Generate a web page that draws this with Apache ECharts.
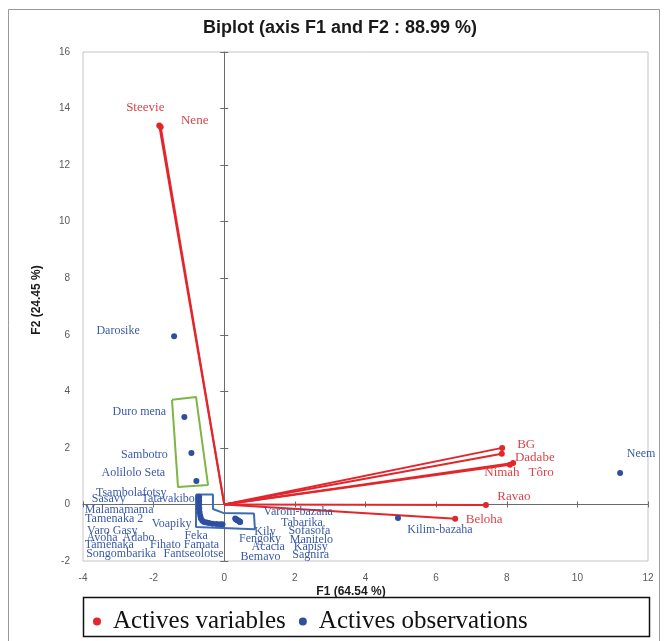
<!DOCTYPE html>
<html>
<head>
<meta charset="utf-8">
<script src="https://cdn.jsdelivr.net/npm/echarts@6/dist/echarts.min.js"></script>
<style>
  html, body { margin: 0; padding: 0; background: #ffffff; }
  #chart { width: 667px; height: 641px; }
</style>
</head>
<body>
<div id="chart"></div>
<script>
// ---- Data ----
const chartTitle = 'Biplot (axis F1 and F2 : 88.99 %)';
const xAxisTitle = 'F1 (64.54 %)';
const yAxisTitle = 'F2 (24.45 %)';
const legendNames = ['Actives variables', 'Actives observations'];

const xMin = -4, xMax = 12, xStep = 2;
const yMin = -2, yMax = 16, yStep = 2;

// Active variables (vectors from origin)
const varNames = ['Steevie', 'Nene', 'BG', 'Dadabe', 'Tôro', 'Nimah', 'Ravao', 'Beloha'];
const varF1 = [-1.84, -1.80, 7.87, 7.86, 8.18, 8.09, 7.41, 6.54];
const varF2 = [13.40, 13.35, 2.00, 1.79, 1.47, 1.40, -0.02, -0.51];

// Active observations
const obsNames = ['Darosike', 'Duro mena', 'Sambotro', 'Aolilolo Seta',
  'Tsambolafotsy', 'Sasavy', 'Tatavakibo', 'Malamamama', 'Tamenaka 2', 'Voapiky',
  'Varo Gasy', 'Avoha', 'Tamenaka', 'Songombarika', 'Adabo', 'Feka', 'Fihato Famata',
  'Fantseolotse', 'Fengoky', 'Bemavo',
  'Varom-bazaha', 'Tabarika', 'Kily', 'Sagnira', 'Sofasofa', 'Manitelo', 'Kapisy', 'Acacia',
  'Kilim-bazaha', 'Neem'];
const obsF1 = [-1.42, -1.13, -0.93, -0.79,
  -0.71, -0.72, -0.71, -0.71, -0.71, -0.70,
  -0.68, -0.66, -0.62, -0.57, -0.50, -0.43, -0.33,
  -0.22, -0.12, -0.05,
  0.31, 0.33, 0.36, 0.38, 0.40, 0.43, 0.44, 0.45,
  4.92, 11.21];
const obsF2 = [5.95, 3.09, 1.82, 0.83,
  0.27, 0.20, 0.12, 0.00, -0.14, -0.28,
  -0.40, -0.50, -0.58, -0.62, -0.64, -0.66, -0.68,
  -0.69, -0.70, -0.70,
  -0.50, -0.52, -0.55, -0.56, -0.58, -0.60, -0.61, -0.62,
  -0.48, 1.11];

// Highlight outlines (F1/F2 units)
const greenBoxF1 = [-1.48, -0.80, -0.46, -1.31, -1.48];
const greenBoxF2 = [3.70, 3.80, 0.69, 0.62, 3.70];
const blueBoxF1 = [-0.80, -0.32, -0.32, -0.03, 0.84, 0.87, -0.80, -0.80];
const blueBoxF2 = [0.35, 0.35, -0.16, -0.30, -0.32, -0.88, -0.80, 0.35];

// ---- Styling / label layout (pixel offsets of labels from their points) ----
const varLabelOffset = {
  'Steevie': [-14, -18], 'Nene': [34, -6], 'BG': [24, -3], 'Dadabe': [33, 4],
  'Tôro': [28, 10], 'Nimah': [-8, 8], 'Ravao': [28, -8], 'Beloha': [29, 1]
};
const obsLabelOffset = {
  'Darosike': [-56, -5], 'Duro mena': [-45, -5], 'Sambotro': [-47, 2], 'Aolilolo Seta': [-63, -8],
  'Tsambolafotsy': [-68, -4], 'Sasavy': [-90, 0], 'Tatavakibo': [-31, -2], 'Malamamama': [-80, 5],
  'Tamenaka 2': [-85, 10], 'Voapiky': [-28, 11], 'Varo Gasy': [-88, 15], 'Avoha': [-99, 19],
  'Tamenaka': [-93, 24], 'Songombarika': [-83, 32], 'Adabo': [-68, 15], 'Feka': [-13, 13],
  'Fihato Famata': [-28, 21], 'Fantseolotse': [-23, 30], 'Fengoky': [40, 15], 'Bemavo': [38, 33],
  'Varom-bazaha': [63, -7], 'Tabarika': [66, 4], 'Kily': [28, 12], 'Sagnira': [73, 35],
  'Sofasofa': [71, 10], 'Manitelo': [72, 18], 'Kapisy': [71, 25], 'Acacia': [28, 25],
  'Kilim-bazaha': [42, 12], 'Neem': [21, -19]
};

const RED = '#e3262b';
const RED_TXT = '#d9454a';
const BLUE = '#2f4e9e';
const BLUE_TXT = '#3a5aa8';
const SERIF = '"Liberation Serif", "DejaVu Serif", serif';
const SANS = '"Liberation Sans", Arial, sans-serif';

const series = [];

// Variable vectors
varNames.forEach((n, i) => {
  series.push({
    name: legendNames[0],
    type: 'line',
    xAxisIndex: 0, yAxisIndex: 0,
    color: RED,
    lineStyle: { color: RED, width: 2 },
    symbol: 'circle',
    symbolSize: 6,
    itemStyle: { color: RED },
    z: 4,
    animation: false,
    data: [
      { value: [0, 0], symbol: 'none', label: { show: false } },
      {
        value: [varF1[i], varF2[i]],
        label: {
          show: true, position: 'inside', formatter: n,
          offset: varLabelOffset[n] || [0, 0],
          color: RED_TXT, fontFamily: SERIF, fontSize: 13
        }
      }
    ]
  });
});

// Observation points: one series per observation so each label keeps its own offset
obsNames.forEach((n, i) => {
  series.push({
    name: legendNames[1],
    type: 'line',
    xAxisIndex: 0, yAxisIndex: 0,
    color: BLUE,
    lineStyle: { width: 0, opacity: 0 },
    symbol: 'circle',
    symbolSize: 6,
    itemStyle: { color: BLUE },
    z: 5,
    animation: false,
    data: [{
      value: [obsF1[i], obsF2[i]],
      label: {
        show: true, position: 'inside', formatter: n,
        offset: obsLabelOffset[n] || [0, 0],
        color: BLUE_TXT, fontFamily: SERIF, fontSize: 12
      }
    }]
  });
});

// Outlines
series.push({
  name: 'greenBox', type: 'line', xAxisIndex: 0, yAxisIndex: 0,
  symbol: 'none', animation: false, z: 3,
  lineStyle: { color: '#7fb446', width: 2 },
  data: greenBoxF1.map((x, i) => [x, greenBoxF2[i]])
});
series.push({
  name: 'blueBox', type: 'line', xAxisIndex: 0, yAxisIndex: 0,
  symbol: 'none', animation: false, z: 3,
  lineStyle: { color: '#3d6cb3', width: 2 },
  data: blueBoxF1.map((x, i) => [x, blueBoxF2[i]])
});

const GRID = { left: 83, right: 19, top: 52, bottom: 80 };

function valueAxis(min, max, step, extra) {
  return Object.assign({
    type: 'value', min: min, max: max, interval: step,
    splitLine: { show: false }
  }, extra);
}

const option = {
  backgroundColor: '#ffffff',
  animation: false,
  grid: Object.assign({ show: true, borderColor: '#c4c4c4', borderWidth: 1, backgroundColor: 'transparent' }, GRID),
  xAxis: [
    valueAxis(xMin, xMax, xStep, {
      position: 'bottom',
      axisLine: { show: false, onZero: false },
      axisTick: { show: false },
      axisLabel: { color: '#595959', fontSize: 10, fontFamily: SANS, margin: 12 }
    }),
    valueAxis(xMin, xMax, xStep, {
      position: 'bottom',
      axisLine: { show: true, onZero: true, lineStyle: { color: '#6b6b6b', width: 1 } },
      axisTick: { show: true, length: 3, lineStyle: { color: '#6b6b6b' } },
      axisLabel: { show: false }
    }),
    valueAxis(xMin, xMax, xStep, {
      position: 'bottom',
      axisLine: { show: false, onZero: true },
      axisTick: { show: true, inside: true, length: 3, lineStyle: { color: '#6b6b6b' } },
      axisLabel: { show: false }
    })
  ],
  yAxis: [
    valueAxis(yMin, yMax, yStep, {
      position: 'left',
      axisLine: { show: false, onZero: false },
      axisTick: { show: false },
      axisLabel: { color: '#595959', fontSize: 10, fontFamily: SANS, margin: 13 }
    }),
    valueAxis(yMin, yMax, yStep, {
      position: 'left',
      axisLine: { show: true, onZero: true, lineStyle: { color: '#6b6b6b', width: 1 } },
      axisTick: { show: true, length: 4, lineStyle: { color: '#6b6b6b' } },
      axisLabel: { show: false }
    }),
    valueAxis(yMin, yMax, yStep, {
      position: 'left',
      axisLine: { show: false, onZero: true },
      axisTick: { show: true, inside: true, length: 4, lineStyle: { color: '#6b6b6b' } },
      axisLabel: { show: false }
    })
  ],
  legend: {
    left: 88, top: 604,
    itemWidth: 22, itemHeight: 8, itemGap: 13,
    textStyle: { fontFamily: SERIF, fontSize: 25, color: '#111111' },
    data: [
      { name: legendNames[0], icon: 'circle', itemStyle: { color: RED } },
      { name: legendNames[1], icon: 'circle', itemStyle: { color: BLUE } }
    ],
    selectedMode: false
  },
  graphic: [
    { type: 'rect', silent: true, z: -10,
      shape: { x: 8.5, y: 9.5, width: 651, height: 660 },
      style: { fill: 'none', stroke: '#9a9a9a', lineWidth: 1 } },
    { type: 'rect', silent: true, z: -5,
      shape: { x: 83.5, y: 597.5, width: 566, height: 39 },
      style: { fill: 'none', stroke: '#111111', lineWidth: 1.5 } },
    { type: 'text', silent: true,
      style: { text: chartTitle, x: 340, y: 28, textAlign: 'center', textVerticalAlign: 'middle',
        font: 'bold 18px ' + SANS, fill: '#1a1a1a' } },
    { type: 'text', silent: true,
      style: { text: xAxisTitle, x: 351, y: 592, textAlign: 'center', textVerticalAlign: 'middle',
        font: 'bold 12px ' + SANS, fill: '#1a1a1a' } },
    { type: 'text', silent: true, x: 37, y: 300, rotation: Math.PI / 2,
      style: { text: yAxisTitle, x: 0, y: 0, textAlign: 'center', textVerticalAlign: 'middle',
        font: 'bold 12px ' + SANS, fill: '#1a1a1a' } }
  ],
  series: series
};

const chart = echarts.init(document.getElementById('chart'), null, { renderer: 'canvas' });
chart.setOption(option);
</script>
</body>
</html>
